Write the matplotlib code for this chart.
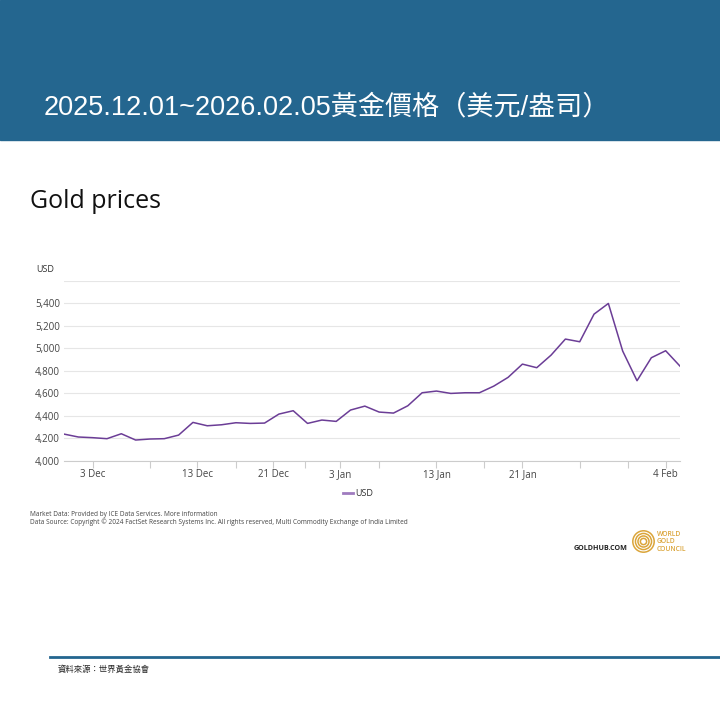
import matplotlib
matplotlib.use('Agg')
import matplotlib.pyplot as plt
from matplotlib.patches import Rectangle, Circle

# Gold price, USD/oz, trading days 1 Dec 2025 - 5 Feb 2026
usd = [4237, 4211, 4205, 4196, 4240, 4184, 4193, 4196, 4228, 4341,
       4311, 4320, 4338, 4332, 4335, 4415, 4445, 4332, 4362, 4350,
       4451, 4486, 4433, 4424, 4489, 4605, 4620, 4599, 4605, 4605,
       4664, 4742, 4860, 4828, 4940, 5083, 5059, 5305, 5400, 4976,
       4712, 4917, 4979, 4842]

tick_pos = [2, 6, 9.3, 12, 14.6, 16.8, 19.3, 22, 26, 29.3, 32, 36, 39.4, 42]
tick_lab = ['3 Dec', '', '13 Dec', '', '21 Dec', '', '3 Jan', '',
            '13 Jan', '', '21 Jan', '', '', '4 Feb']
y_ticks = [4000, 4200, 4400, 4600, 4800, 5000, 5200, 5400, 5600]

W = H = 720
fig = plt.figure(figsize=(7.2, 7.2), dpi=100)
fig.patch.set_facecolor('white')


def fx(px):
    return px / W


def fy(py):
    return 1 - py / H


# header band
fig.patches.append(Rectangle((0, fy(140)), 1, 140 / H, transform=fig.transFigure,
                             color='#24668f', zorder=0))
fig.text(fx(44), fy(107), '2025.12.01~2026.02.05黃金價格（美元/盎司）',
         color='white', fontsize=19.5, va='center', ha='left',
         family=['Liberation Sans', 'Noto Sans CJK TC'])

fig.text(fx(30), fy(201), 'Gold prices', fontsize=18, family='Open Sans',
         va='center', ha='left', color='#111111')

# main chart
ax = fig.add_axes([fx(64), fy(460.7), 616 / W, 179.7 / H])
ax.plot(range(len(usd)), usd, color='#6b3d96', lw=1.1)
ax.set_xlim(0, 43)
ax.set_ylim(4000, 5600)
ax.set_yticks(y_ticks)
ax.set_yticklabels(['{:,}'.format(v) if v < 5600 else '' for v in y_ticks])
ax.set_xticks(tick_pos)
ax.set_xticklabels(tick_lab)
ax.grid(axis='y', color='#e6e6e6', lw=0.8)
ax.set_axisbelow(True)
for s in ['top', 'right', 'left']:
    ax.spines[s].set_visible(False)
ax.spines['bottom'].set_color('#cccccc')
ax.tick_params(axis='y', length=0, labelsize=7, labelcolor='#444444', pad=3)
ax.tick_params(axis='x', length=5, color='#cccccc', labelsize=7,
               labelcolor='#444444', pad=1)
for lab in ax.get_xticklabels() + ax.get_yticklabels():
    lab.set_family('Open Sans')

fig.text(fx(36), fy(270), 'USD', fontsize=6.5, family='Open Sans',
         color='#333333', va='center')

# legend
fig.lines.append(plt.Line2D([fx(343), fx(353)], [fy(493), fy(493)],
                            transform=fig.transFigure, color='#9f7bbf', lw=2))
fig.text(fx(355), fy(493), 'USD', fontsize=6.5, family='Open Sans',
         color='#333333', va='center')

# sources
fig.text(fx(30), fy(514), 'Market Data: Provided by ICE Data Services. More information',
         fontsize=4.7, family='Open Sans', color='#444444', va='center')
fig.text(fx(30), fy(522),
         'Data Source: Copyright © 2024 FactSet Research Systems Inc. All rights reserved, '
         'Multi Commodity Exchange of India Limited',
         fontsize=4.7, family='Open Sans', color='#444444', va='center')

# logo
fig.text(fx(628), fy(549), 'GOLDHUB.COM', fontsize=5.1, family='Open Sans',
         weight='bold', color='#222222', va='center', ha='right')
lax = fig.add_axes([fx(632), fy(553), 23 / W, 23 / H])
lax.set_xlim(-1, 1)
lax.set_ylim(-1, 1)
lax.set_aspect('equal')
lax.axis('off')
for r in [0.93, 0.7, 0.48, 0.27]:
    lax.add_patch(Circle((0, 0), r, fill=False, ec='#dba53a', lw=1.1))
logo_words = ['WORLD', 'GOLD', 'COUNCIL']
for i, w in enumerate(logo_words):
    fig.text(fx(657), fy(534.5 + 7.4 * i), w, fontsize=4.9, family='Open Sans',
             weight='semibold', color='#dba53a', va='center')

# footer
fig.lines.append(plt.Line2D([fx(50), 1], [fy(657), fy(657)],
                            transform=fig.transFigure, color='#24668f', lw=2))
fig.text(fx(58), fy(669), '資料來源：世界黃金協會', fontsize=6,
         family=['Noto Sans CJK TC', 'DejaVu Sans'], color='#222222', va='center')

fig.savefig('out.png', dpi=100)
